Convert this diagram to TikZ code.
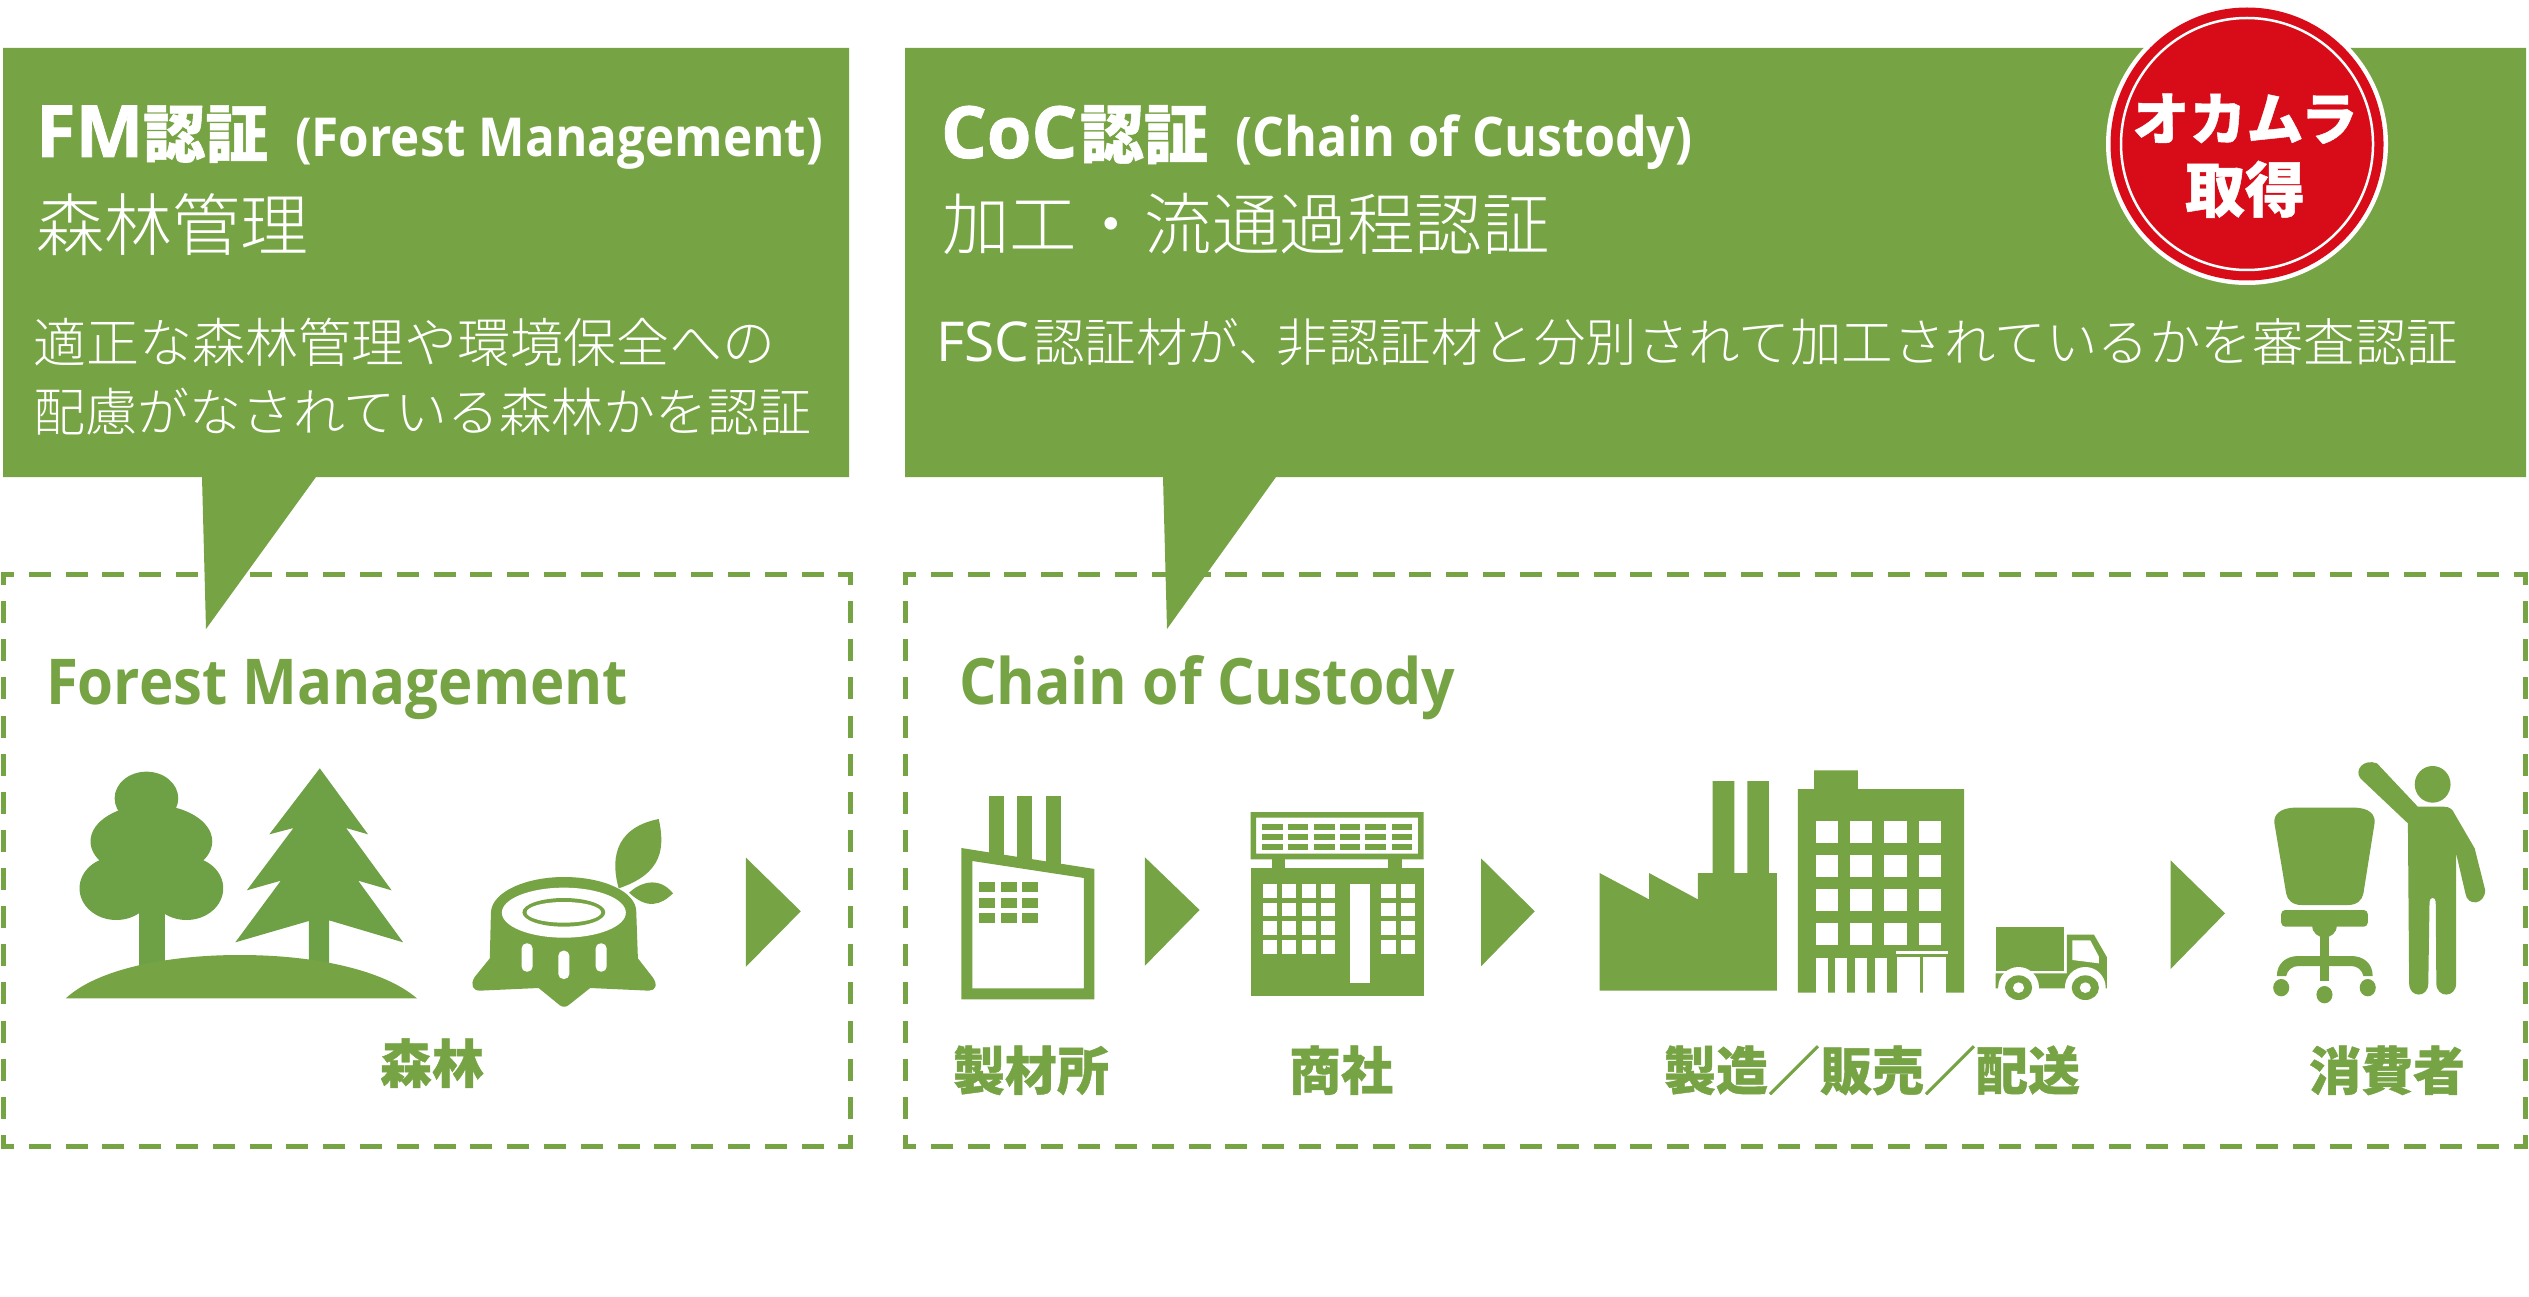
\documentclass[tikz,border=0pt]{standalone}
\usepackage{fontspec}
\setmainfont{Noto Sans CJK JP}
\newfontfamily\jpl{Noto Sans CJK JP Light}
\newfontfamily\jph[BoldFeatures={FakeBold=0.8}]{Noto Sans CJK JP}
\newfontfamily\lat{Open Sans}
\newfontfamily\latc[FakeStretch=0.92]{Open Sans}
\newfontfamily\lath[BoldFeatures={FakeBold=1.2}]{Open Sans}
\newcommand{\fsz}[1]{\fontsize{#1}{#1}\selectfont}
\definecolor{gr}{HTML}{76A343}
\definecolor{gt}{HTML}{6EA146}
\definecolor{rd}{HTML}{D80C18}
\tikzset{
  tx/.style={inner sep=0pt,outer sep=0pt,anchor=base west,text=white},
  lb/.style={inner sep=0pt,outer sep=0pt,anchor=base,text=gr,font=\jph\bfseries\fsz{52}},
  hd/.style={inner sep=0pt,outer sep=0pt,anchor=base west,text=gr,font=\latc\bfseries\fsz{64}},
  dsh/.style={draw=gr,line width=5pt},
  zone/.style={shift={(0pt,-740pt)},x=0.5485pt,y=-0.33333pt},
  ztwo/.style={shift={(920pt,-740pt)},x=0.4591pt,y=-0.33333pt},
  zthree/.style={shift={(1560pt,-740pt)},x=0.618pt,y=-0.33333pt},
}
\begin{document}
\begin{tikzpicture}[x=1pt,y=-1pt]
\path[use as bounding box,fill=white] (0,0) rectangle (2529,1297);
% dashed frames
\begin{scope}[dsh]
\draw[dash pattern=on 22pt off 14.8pt,dash phase=11pt] (3,574)--(850,574);
\draw[dash pattern=on 22pt off 14.8pt,dash phase=11pt] (3,1146)--(850,1146);
\draw[dash pattern=on 22pt off 16.13pt,dash phase=11pt] (3,574)--(3,1146);
\draw[dash pattern=on 22pt off 16.13pt,dash phase=11pt] (850,574)--(850,1146);
\draw (3,585)--(3,574)--(14,574); \draw (839,574)--(850,574)--(850,585);
\draw (3,1135)--(3,1146)--(14,1146); \draw (839,1146)--(850,1146)--(850,1135);
\draw[dash pattern=on 22pt off 14.82pt,dash phase=11pt] (905,574)--(2525,574);
\draw[dash pattern=on 22pt off 14.82pt,dash phase=11pt] (905,1146)--(2525,1146);
\draw[dash pattern=on 22pt off 16.13pt,dash phase=11pt] (905,574)--(905,1146);
\draw[dash pattern=on 22pt off 16.13pt,dash phase=11pt] (2525,574)--(2525,1146);
\draw (905,585)--(905,574)--(916,574); \draw (2514,574)--(2525,574)--(2525,585);
\draw (905,1135)--(905,1146)--(916,1146); \draw (2514,1146)--(2525,1146)--(2525,1135);
\end{scope}
% callouts
\fill[gr] (3,48)--(849,48)--(849,477)--(316,477)--(206,629)--(202,477)--(3,477)--cycle;
\fill[gr] (905,48)--(2526,48)--(2526,477)--(1276,477)--(1167,629)--(1163,477)--(905,477)--cycle;
% seal
\fill[white] (2247,144) circle[radius=141];
\fill[rd] (2247,144) circle[radius=136.5];
\draw[white,line width=2.5pt] (2247,144) circle[radius=126];
% callout text
\node[tx] (fma) at (36,157) {\lath\bfseries\fsz{72}FM};
\node[tx] (fmb) at (143,157) {\jph\bfseries\fsz{62.5}認証};
\node[tx] (fmc) at (295,157) {\latc\bfseries\fsz{53.7}(Forest Management)};
\node[tx] (fmd) at (36,251) {\jpl\fsz{68}森林管理};
\node[tx] (fme) at (33,362) {\jpl\fsz{53}適正な森林管理や環境保全への};
\node[tx] (fmf) at (33,431) {\jpl\fsz{52}配慮がなされている森林かを認証};
\node[tx] (coa) at (941,158) {\lath\bfseries\fsz{72}CoC};
\node[tx] (cob) at (1080,158) {\jph\bfseries\fsz{64}認証};
\node[tx] (coc) at (1235,157) {\latc\bfseries\fsz{54.6}(Chain of Custody)};
\node[tx] (cod) at (942,250) {\jpl\fsz{67.5}加工・流通過程認証};
\node[tx] (coe) at (936,361) {{\lat\fsz{55}FSC}\kern4pt{\jpl\fsz{51.5}認証材が、\kern-13pt 非認証材と分別されて加工されているかを審査認証}};
\node[inner sep=0pt,anchor=base,text=white,font=\jph\bfseries\fsz{57}] (sa) at (2245,140) {オカムラ};
\node[inner sep=0pt,anchor=base,text=white,font=\jph\bfseries\fsz{60}] (sb) at (2245,212) {取得};
% headings
\node[hd,font=\latc\bfseries\fsz{63.2}] (ha) at (46,704) {Forest Management};
\node[hd] (hb) at (959,704) {Chain of Custody};
% labels
\node[lb] (la) at (432,1083) {森林};
\node[lb] (lb1) at (1031,1090) {製材所};
\node[lb] (lc) at (1341,1090) {商社};
\node[lb] (ld) at (1872,1090) {製造／販売／配送};
\node[lb] (le) at (2387,1090) {消費者};
% ---- forest icons
\begin{scope}[zone]
\fill[gt] (267,175) ellipse[x radius=58,y radius=80];
\fill[gt] (276,304) ellipse[x radius=111,y radius=110];
\fill[gt] (212,445) ellipse[x radius=67,y radius=95];
\fill[gt] (340,445) ellipse[x radius=67,y radius=95];
\fill[gt] (253,400) rectangle (300,690);
\fill[gt] (583,85)--(671,283)--(631,264)--(714,451)--(653,422)--(735,607)--(600,541)--(600,680)--(563,680)--(563,543)--(429,607)--(512,422)--(450,451)--(535,264)--(491,283)--cycle;
\fill[gr] (120,775) .. controls (175,690) and (300,645) .. (437,645) .. controls (575,645) and (700,690) .. (760,775) -- cycle;
% stump
\fill[gr] (893,655)--(895,520) .. controls (895,455) and (960,411) .. (1028,411) .. controls (1100,411) and (1160,455) .. (1160,515) -- (1163,655) -- (1190,712) .. controls (1200,735) and (1195,752) .. (1183,752) -- (1076,744) -- (1037,795) .. controls (1032,802) and (1025,802) .. (1020,795) -- (982,744) -- (875,752) .. controls (862,752) and (857,735) .. (865,712) -- cycle;
\fill[white] (1028,518) ellipse[x radius=113,y radius=75];
\fill[gr] (1028,517) ellipse[x radius=75.5,y radius=43];
\fill[white] (1028,517) ellipse[x radius=68,y radius=31];
\fill[white,rounded corners=5pt] (951,610) rectangle (971,695);
\fill[white,rounded corners=5pt] (1018,632) rectangle (1038,717);
\fill[white,rounded corners=5pt] (1086,610) rectangle (1106,695);
\fill[gr] (1201,237) .. controls (1212,320) and (1210,400) .. (1128,445) .. controls (1115,370) and (1115,265) .. (1201,237) -- cycle;
\fill[gr] (1147,458) .. controls (1165,430) and (1200,405) .. (1227,460) .. controls (1205,495) and (1180,510) .. (1147,458) -- cycle;
\fill[gr] (1360,353)--(1460,514)--(1360,680)--cycle;
\end{scope}
% ---- sawmill + trading house
\begin{scope}[ztwo]
\fill[gr] (150,167) rectangle (183,350);
\fill[gr] (212,167) rectangle (245,360);
\fill[gr] (274,167) rectangle (307,375);
\fill[gr,even odd rule] (90,324)--(380,387)--(380,778)--(90,778)--cycle (114,363)--(357,414)--(357,745)--(114,745)--cycle;
\foreach \c in {128,176,223} \foreach \r in {427,473,520}
  \fill[gr] (\c,\r) rectangle ++(35,30);
\fill[gr] (490,352)--(609,510)--(490,677)--cycle;
\fill[gr,even odd rule] (720,216) rectangle (1097,358) (732,233) rectangle (1085,341);
\foreach \c in {745,801,858,914,970,1027} \foreach \r in {251,281,312}
  \fill[gr] (\c,\r) rectangle ++(45,18.5);
\fill[gr] (767,358) rectangle (796,385);
\fill[gr] (1020,358) rectangle (1050,385);
\fill[gr] (720,385) rectangle (1097,767);
\foreach \r in {432,488,544,600} {
  \foreach \c in {747,789,831,873,1005,1047}
    \fill[white] (\c,\r) rectangle ++(31,41);
}
\fill[white] (936,431) rectangle (980,730);
\fill[gr] (1222,355)--(1339,514)--(1222,679)--cycle;
\end{scope}
% ---- factory, building, truck, chair, person
\begin{scope}[zthree]
\fill[gr] (64,399)--(144,478)--(144,399)--(223,478)--(223,399)--(247,399)--(247,123)--(282,123)--(282,399)--(303,399)--(303,123)--(338,123)--(338,399)--(351,399)--(351,752)--(64,752)--cycle;
\fill[gr] (385,147)--(411,147)--(411,91)--(482,91)--(482,147)--(654,147)--(654,758)--(385,758)--cycle;
\foreach \c in {414,469,525,581} \foreach \r in {243,345,447,550}
  \fill[white] (\c,\r) rectangle ++(36,65);
\foreach \c in {414,445,477,509}
  \fill[white] (\c,653) rectangle ++(20,105);
\fill[white] (544,632) rectangle (627,643);
\fill[white] (546,650) rectangle (583,758);
\fill[white] (587,650) rectangle (624,758);
% truck
\fill[gr] (705,561) rectangle (816,694);
\fill[gr] (820,584)--(864,584)--(885,652)--(885,745)--(705,745)--(705,700)--(820,700)--cycle;
\fill[white] (829,601)--(858,601)--(872,650)--(872,670)--(829,660)--cycle;
\foreach \c in {742,850} {
  \fill[white] (\c,743) ellipse[x radius=33,y radius=62];
  \fill[gr] (\c,743) ellipse[x radius=22,y radius=37];
  \fill[white] (\c,743) ellipse[x radius=9,y radius=16];
}
\fill[gr] (988,361)--(1076,520)--(988,687)--cycle;
% chair
\fill[gr] (1190,203)--(1285,203) .. controls (1310,203) and (1320,225) .. (1318,250) -- (1300,460) .. controls (1298,480) and (1290,495) .. (1275,495) -- (1200,495) .. controls (1185,495) and (1177,480) .. (1175,460) -- (1156,250) .. controls (1154,225) and (1165,203) .. (1190,203) -- cycle;
\fill[gr,rounded corners=4pt] (1167,510) rectangle (1307,560);
\fill[gr] (1217,555) .. controls (1217,580) and (1227,592) .. (1237,592) .. controls (1247,592) and (1257,580) .. (1257,555) -- cycle;
\fill[gr] (1230,585) rectangle (1245,722);
\fill[gr] (1160,708) .. controls (1160,670) and (1175,648) .. (1195,648) -- (1280,648) .. controls (1300,648) and (1315,670) .. (1315,708) -- (1300,708) .. controls (1298,690) and (1290,678) .. (1280,678) -- (1195,678) .. controls (1185,678) and (1177,690) .. (1175,708) -- cycle;
\fill[gr] (1167,743) ellipse[x radius=13,y radius=26];
\fill[gr] (1237,764) ellipse[x radius=13,y radius=26];
\fill[gr] (1307,743) ellipse[x radius=13,y radius=26];
% person
\fill[gr] (1412,133) ellipse[x radius=29,y radius=55];
\fill[gr] (1295,115) .. controls (1285,90) and (1300,55) .. (1322,70) -- (1388,200) -- (1430,200) .. controls (1440,200) and (1445,210) .. (1447,220) -- (1480,325) -- (1497,450) .. controls (1497,495) and (1468,500) .. (1465,460) -- (1450,340) -- (1450,730) .. controls (1450,775) and (1418,775) .. (1418,730) -- (1417,485) .. controls (1417,470) and (1407,470) .. (1407,485) -- (1405,730) .. controls (1405,775) and (1374,775) .. (1374,730) -- (1372,250) -- cycle;
\end{scope}
\end{tikzpicture}
\end{document}
